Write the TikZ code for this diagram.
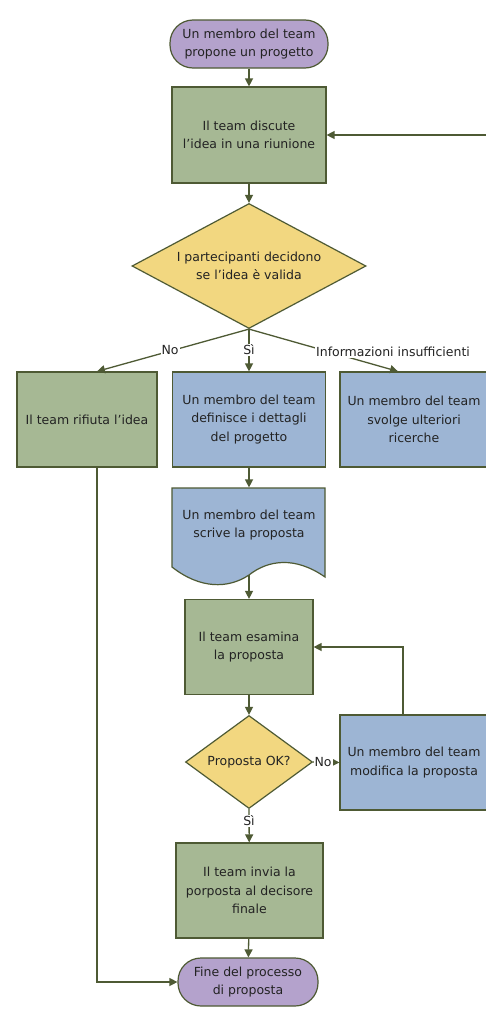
\documentclass[tikz,border=0pt]{standalone}
\usepackage{fontspec}
\setmainfont{DejaVu Sans}
\usetikzlibrary{arrows.meta,shapes.geometric}
\definecolor{purp}{RGB}{180,162,204}
\definecolor{grn}{RGB}{166,184,148}
\definecolor{blu}{RGB}{157,181,212}
\definecolor{yel}{RGB}{242,215,128}
\definecolor{edgec}{RGB}{78,90,52}
\definecolor{txt}{RGB}{35,35,35}
\tikzset{
 base/.style={draw=edgec, line width=1.2pt, text=txt, align=center, inner sep=0pt, font=\fontsize{12.5}{18.3}\selectfont},
 term/.style={base, fill=purp, rounded corners=23pt},
 gbox/.style={base, fill=grn},
 bbox/.style={base, fill=blu},
 dec/.style={base, fill=yel, diamond},
 conn/.style={draw=edgec, line width=1.3pt, -{Triangle[length=8pt,width=8pt]}},
 lab/.style={fill=white, inner sep=1pt, text=txt, font=\fontsize{12.5}{14}\selectfont}
}
\begin{document}
\begin{tikzpicture}[x=1pt,y=-1pt]
\useasboundingbox[fill=white] (0,0) rectangle (485,1009);
% nodes
\node[term, minimum width=158pt, minimum height=48pt] (start) at (249,44) {Un membro del team\\propone un progetto};
\node[gbox, minimum width=154pt, minimum height=96pt] (b1) at (249,135) {Il team discute\\l’idea in una riunione};
\node[dec, aspect=1.87, minimum width=234pt, minimum height=125pt] (d1) at (249,266) {I partecipanti decidono\\se l’idea è valida};
\node[gbox, minimum width=140pt, minimum height=95pt] (rej) at (87,419.5) {Il team rifiuta l’idea};
\node[bbox, minimum width=153pt, minimum height=95pt] (mid) at (249,419.5) {Un membro del team\\definisce i dettagli\\del progetto};
\node[bbox, minimum width=148pt, minimum height=95pt] (res) at (414,419.5) {Un membro del team\\svolge ulteriori\\ricerche};
% document shape
\draw[edgec, line width=1.2pt, fill=blu] (172,488) -- (325,488) -- (325,577)
  .. controls (295,556) and (268,560) .. (249,575)
  .. controls (228,589) and (200,589) .. (172,567) -- cycle;
\node[base, draw=none, minimum width=153pt, minimum height=80pt] (doc) at (249,528) {};
\node[base, draw=none] (doctext) at (249,525) {Un membro del team\\scrive la proposta};
\coordinate (docb) at (249,575);
\node[gbox, minimum width=128pt, minimum height=95pt] (esam) at (249,647) {Il team esamina\\la proposta};
\node[dec, aspect=1.37, minimum width=127pt, minimum height=93pt] (d2) at (249,762) {Proposta OK?};
\node[bbox, minimum width=148pt, minimum height=95pt] (mod) at (414,762.5) {Un membro del team\\modifica la proposta};
\node[gbox, minimum width=147pt, minimum height=95pt] (inv) at (249.5,890.5) {Il team invia la\\porposta al decisore\\finale};
\node[term, minimum width=140pt, minimum height=48pt] (fine) at (248,982) {Fine del processo\\di proposta};
\coordinate (rin) at (490,135);
% connectors
\draw[conn] (start) -- (b1);
\draw[conn] (rin) -- (b1.east);
\draw[conn] (b1) -- (d1);
\draw[conn] (d1.south) -- ([xshift=10pt]rej.north);
\draw[conn] (d1.south) -- (mid.north);
\draw[conn] (d1.south) -- ([xshift=-16pt]res.north);
\draw[conn] (mid) -- (doc.north);
\draw[conn] (docb) -- (esam);
\draw[conn] (esam) -- (d2);
\draw[conn] (d2.east) -- (mod.west);
\draw[conn] ([xshift=-11pt]mod.north) |- (esam.east);
\draw[conn] (d2.south) -- (inv);
\draw[conn] (inv) -- (fine);
\draw[conn] ([xshift=10pt]rej.south) |- (fine.west);
% labels
\node[lab] (lno1) at (170,350) {No};
\node[lab] (lsi1) at (249,350) {Sì};
\node[lab] (linf) at (393,352) {Informazioni insufficienti};
\node[lab] (lno2) at (323,762) {No};
\node[lab] (lsi2) at (249,821) {Sì};
\end{tikzpicture}
\end{document}
